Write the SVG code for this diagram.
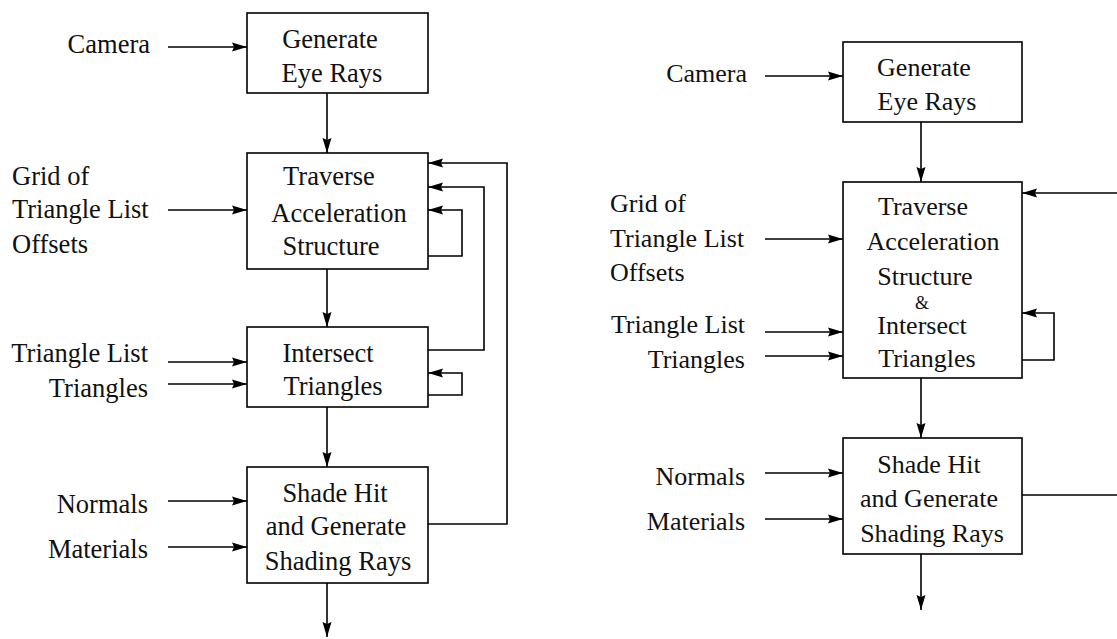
<svg xmlns="http://www.w3.org/2000/svg" width="1117" height="639" viewBox="0 0 1117 639">
<defs>
<marker id="ah" viewBox="0 0 15 10" refX="15" refY="5" markerWidth="15" markerHeight="10" markerUnits="userSpaceOnUse" orient="auto">
<path d="M0,0.5 L15,5 L0,9.5 L2,5 z" fill="#000"/>
</marker>
<style>
.box{fill:#fff;stroke:#000;stroke-width:1.6}
.t{font-family:"Liberation Serif","Times New Roman",serif;font-size:26.5px;fill:#111}
.r{font-family:"Liberation Serif","Times New Roman",serif;font-size:26px;fill:#111}
.m{text-anchor:middle}
.e{text-anchor:end}
.c{fill:none;stroke:#000;stroke-width:1.6}
.a{marker-end:url(#ah)}
</style>
</defs>
<rect width="1117" height="639" fill="#fff"/>

<!-- LEFT DIAGRAM -->
<g id="connectors-left">
<line class="c a" x1="168" y1="47" x2="247" y2="47"/>
<line class="c a" x1="327" y1="93" x2="327" y2="153"/>
<line class="c a" x1="168" y1="210" x2="247" y2="210"/>
<line class="c a" x1="327" y1="269" x2="327" y2="327"/>
<line class="c a" x1="168" y1="362" x2="247" y2="362"/>
<line class="c a" x1="168" y1="384" x2="247" y2="384"/>
<line class="c a" x1="327" y1="407" x2="327" y2="467"/>
<line class="c a" x1="168" y1="501" x2="247" y2="501"/>
<line class="c a" x1="168" y1="547" x2="247" y2="547"/>
<line class="c a" x1="327" y1="583" x2="327" y2="637"/>
<polyline class="c a" points="428,256 462,256 462,210 428,210"/>
<polyline class="c a" points="428,395 462,395 462,373 428,373"/>
<polyline class="c a" points="428,350 484,350 484,187 428,187"/>
<polyline class="c a" points="428,524 507,524 507,163 428,163"/>
</g>

<g id="L-gen">
<rect class="box" x="247" y="13" width="181" height="80"/>
<text class="t m" x="330" y="48">Generate</text>
<text class="t m" x="332" y="82">Eye Rays</text>
</g>
<g id="L-trav">
<rect class="box" x="247" y="153" width="181" height="116"/>
<text class="t m" x="329" y="185">Traverse</text>
<text class="t m" x="339" y="222">Acceleration</text>
<text class="t m" x="331" y="255">Structure</text>
</g>
<g id="L-int">
<rect class="box" x="247" y="327" width="181" height="80"/>
<text class="t m" x="328" y="362">Intersect</text>
<text class="t m" x="333" y="395">Triangles</text>
</g>
<g id="L-shade">
<rect class="box" x="247" y="467" width="181" height="116"/>
<text class="t m" x="335" y="502">Shade Hit</text>
<text class="t m" x="336" y="535">and Generate</text>
<text class="t m" x="338" y="570">Shading Rays</text>
</g>
<g id="L-inputs">
<text class="t e" x="150" y="53">Camera</text>
<text class="t" x="12" y="185">Grid of</text>
<text class="t" x="12" y="218">Triangle List</text>
<text class="t" x="12" y="253">Offsets</text>
<text class="t e" x="148" y="362">Triangle List</text>
<text class="t e" x="148" y="397">Triangles</text>
<text class="t e" x="148" y="513">Normals</text>
<text class="t e" x="148" y="558">Materials</text>
</g>

<!-- RIGHT DIAGRAM -->
<g id="connectors-right">
<line class="c a" x1="765" y1="76" x2="843" y2="76"/>
<line class="c a" x1="921" y1="122" x2="921" y2="182"/>
<line class="c a" x1="765" y1="239" x2="843" y2="239"/>
<line class="c a" x1="765" y1="332" x2="843" y2="332"/>
<line class="c a" x1="765" y1="356" x2="843" y2="356"/>
<line class="c a" x1="921" y1="378" x2="921" y2="438"/>
<line class="c a" x1="765" y1="473" x2="843" y2="473"/>
<line class="c a" x1="765" y1="519" x2="843" y2="519"/>
<line class="c a" x1="921" y1="554" x2="921" y2="610"/>
<polyline class="c a" points="1022,360 1054,360 1054,313 1022,313"/>
<line class="c a" x1="1120" y1="193" x2="1022" y2="193"/>
<line class="c" x1="1022" y1="495" x2="1120" y2="495"/>
</g>

<g id="R-gen">
<rect class="box" x="843" y="42" width="179" height="80"/>
<text class="r m" x="924" y="76">Generate</text>
<text class="r m" x="927" y="110">Eye Rays</text>
</g>
<g id="R-trav">
<rect class="box" x="843" y="182" width="179" height="196"/>
<text class="r m" x="923" y="215">Traverse</text>
<text class="r m" x="933" y="250">Acceleration</text>
<text class="r m" x="925" y="285">Structure</text>
<text class="r m" x="922" y="309" style="font-size:18px">&amp;</text>
<text class="r m" x="922" y="334">Intersect</text>
<text class="r m" x="927" y="367">Triangles</text>
</g>
<g id="R-shade">
<rect class="box" x="843" y="438" width="179" height="116"/>
<text class="r m" x="929" y="473">Shade Hit</text>
<text class="r m" x="929" y="507">and Generate</text>
<text class="r m" x="932" y="542">Shading Rays</text>
</g>
<g id="R-inputs">
<text class="r e" x="747" y="82">Camera</text>
<text class="r" x="610" y="212">Grid of</text>
<text class="r" x="610" y="247">Triangle List</text>
<text class="r" x="610" y="281">Offsets</text>
<text class="r e" x="745" y="333">Triangle List</text>
<text class="r e" x="745" y="368">Triangles</text>
<text class="r e" x="745" y="485">Normals</text>
<text class="r e" x="745" y="530">Materials</text>
</g>
</svg>
